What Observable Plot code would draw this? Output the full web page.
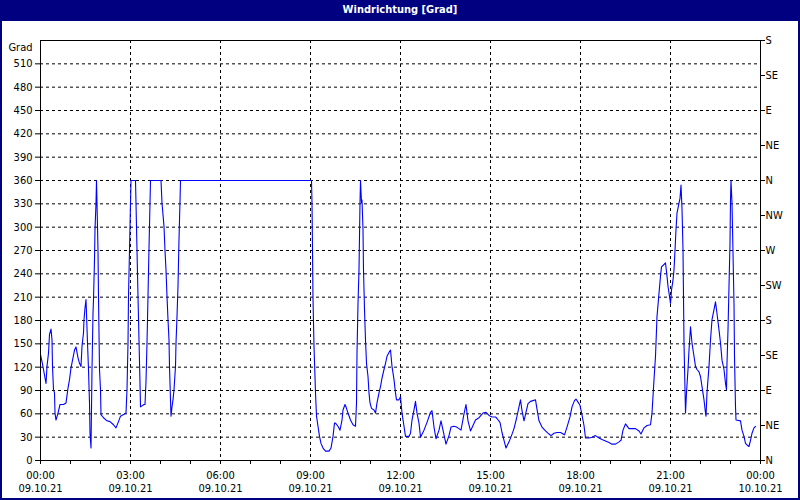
<!DOCTYPE html>
<html>
<head>
<meta charset="utf-8">
<script src="https://cdn.jsdelivr.net/npm/d3@7"></script>
<script src="https://cdn.jsdelivr.net/npm/@observablehq/plot@0.6"></script>
<style>
  html, body { margin: 0; padding: 0; background: #ffffff; }
  #wrap { position: relative; width: 800px; height: 500px; overflow: hidden; background: #ffffff; }
  #title { position: absolute; left: 0; top: 0; width: 800px; height: 21px; background: #000080; color: #ffffff;
           font: bold 11px "Liberation Sans Narrow", "Arial Narrow", "DejaVu Sans Condensed", sans-serif;
           text-align: center; line-height: 19px; }
  #chart { position: absolute; left: 0; top: 20px; }
  #border { position: absolute; left: 0; top: 0; width: 800px; height: 500px; box-sizing: border-box;
            border: 2px solid #000080; pointer-events: none; }
</style>
</head>
<body>
<div id="wrap">
  <div id="title">Windrichtung [Grad]</div>
  <div id="chart"></div>
  <div id="border"></div>
</div>
<script>
// minutes after 09.10.21 00:00
const minutes = [0,3,6,11,13,16,18,21,23,24,26,28,29,31,35,39,46,51,55,58,61,65,68,71,75,78,81,83,86,87,89,91,92,94,96,98,99,101,103,105,106,108,109,111,112,113,115,116,118,120,121,126,133,139,146,151,156,160,166,171,173,175,176,178,180,181,190,191,193,195,197,199,200,207,209,211,213,215,217,219,220,241,243,247,249,251,253,255,257,258,260,261,263,265,267,270,271,273,275,277,279,280,542,543,544,545,547,550,552,555,558,561,565,570,577,581,585,588,590,595,599,603,605,609,611,615,620,625,630,632,633,635,637,639,640,642,643,645,646,648,650,652,655,657,659,662,667,670,673,677,680,683,687,690,693,697,700,703,707,710,712,717,720,723,727,730,737,740,743,747,750,753,757,760,767,773,780,783,787,791,797,801,805,811,817,821,827,832,837,841,847,851,855,860,865,870,877,881,885,891,897,903,910,913,919,923,927,931,937,942,947,952,957,960,963,967,971,975,980,985,990,993,997,1003,1010,1017,1021,1027,1033,1040,1048,1053,1059,1063,1068,1071,1075,1079,1082,1087,1090,1097,1103,1110,1117,1123,1130,1137,1143,1150,1157,1161,1165,1170,1177,1190,1197,1201,1207,1213,1220,1223,1227,1230,1233,1237,1240,1242,1247,1250,1253,1255,1258,1260,1262,1265,1267,1269,1271,1273,1277,1279,1281,1283,1285,1287,1289,1290,1292,1295,1297,1300,1303,1307,1310,1313,1317,1320,1323,1327,1330,1331,1333,1337,1340,1343,1347,1350,1353,1357,1360,1363,1367,1370,1372,1373,1375,1377,1379,1380,1381,1383,1385,1387,1388,1390,1391,1400,1403,1407,1410,1413,1417,1420,1423,1427,1430];
// wind direction in degrees
const direction = [136,127,117,99,121,138,162,169,155,121,91,87,61,52,61,72,72,74,93,104,119,132,142,146,132,125,121,147,164,181,196,207,189,151,117,74,35,16,117,189,207,258,297,331,360,331,270,211,117,91,59,55,51,50,46,42,50,57,59,61,91,151,211,270,331,360,360,331,270,211,155,99,69,72,72,102,151,211,273,331,360,360,331,301,270,245,211,181,155,121,78,57,69,78,91,121,151,185,224,284,333,360,360,331,270,208,147,87,57,44,31,22,16,12,12,16,31,48,48,44,39,52,65,72,69,61,52,46,44,74,138,202,245,331,360,331,335,297,245,194,155,125,108,87,74,67,65,61,74,87,95,106,117,125,134,139,142,121,104,87,78,78,82,61,44,31,31,35,52,65,76,61,48,30,39,49,62,64,43,28,39,51,39,21,32,43,44,43,41,39,60,72,51,38,45,52,55,58,61,62,58,56,56,54,49,36,26,16,24,32,41,54,69,78,64,51,62,73,76,77,78,66,51,43,38,34,32,35,36,36,33,43,56,69,77,79,75,71,62,45,29,29,30,32,29,27,25,23,21,21,24,26,39,47,41,41,38,34,42,45,46,61,104,134,185,215,237,249,252,254,237,224,211,202,219,232,245,270,297,318,331,337,354,324,271,151,91,61,87,117,142,172,151,134,121,117,114,108,95,78,61,57,87,121,155,181,194,204,189,168,151,129,117,99,91,125,168,224,279,335,360,331,267,202,134,69,52,51,39,31,22,20,18,26,35,42,44];

const leftTicks = [0,30,60,90,120,150,180,210,240,270,300,330,360,390,420,450,480,510];
const gridValues = [30,60,90,120,150,180,210,240,270,300,330,360,390,420,450,480,510];
const compassValues = [0,45,90,135,180,225,270,315,360,405,450,495,540];
const compassLabels = ["N","NE","E","SE","S","SW","W","NW","N","NE","E","SE","S"];
const hourTicks = d3.range(0, 25);        // every hour
const labelHours = [0,3,6,9,12,15,18,21,24];
const gridHours = [3,6,9,12,15,18,21];

const t0 = Date.UTC(2021, 9, 9, 0, 0);
const T = (m) => new Date(t0 + m * 60000);
const data = minutes.map((m, i) => ({t: T(m), v: direction[i]}));
const fmtTime = d3.utcFormat("%H:%M");
const fmtDate = d3.utcFormat("%d.%m.%y");

const chart = Plot.plot({
  width: 800,
  height: 480,
  marginTop: 20,
  marginBottom: 40,
  marginLeft: 40,
  marginRight: 40,
  style: {
    fontFamily: '"Liberation Sans Narrow", "Arial Narrow", "DejaVu Sans Condensed", sans-serif',
    fontSize: "11px",
    color: "#000000",
    background: "transparent"
  },
  x: {type: "utc", domain: [T(0), T(1440)], axis: null},
  y: {domain: [0, 540], axis: null},
  marks: [
    Plot.ruleY(gridValues, {stroke: "#000000", strokeDasharray: "3,3"}),
    Plot.ruleX(gridHours.map(h => T(h * 60)), {stroke: "#000000", strokeDasharray: "3,3"}),
    Plot.line(data, {x: "t", y: "v", stroke: "#0000ff", strokeWidth: 1.1}),
    Plot.frame({stroke: "#000000"}),
    Plot.axisY(leftTicks, {anchor: "left", tickSize: 5, tickPadding: 3, label: null, tickFormat: d => String(d)}),
    Plot.text(["Grad"], {frameAnchor: "top-left", textAnchor: "end", dx: -8, dy: 3}),
    Plot.axisY(compassValues, {anchor: "right", tickSize: 4, tickPadding: 1, label: null,
      tickFormat: (d) => compassLabels[compassValues.indexOf(d)]}),
    Plot.axisX(hourTicks.map(h => T(h * 60)), {anchor: "bottom", tickSize: 4, text: null, label: null}),
    Plot.axisX(labelHours.map(h => T(h * 60)), {anchor: "bottom", tickSize: 0, tickPadding: 9, label: null,
      lineHeight: 1.22, tickFormat: d => fmtTime(d) + "\n" + fmtDate(d)})
  ]
});
document.getElementById("chart").appendChild(chart);
</script>
</body>
</html>
